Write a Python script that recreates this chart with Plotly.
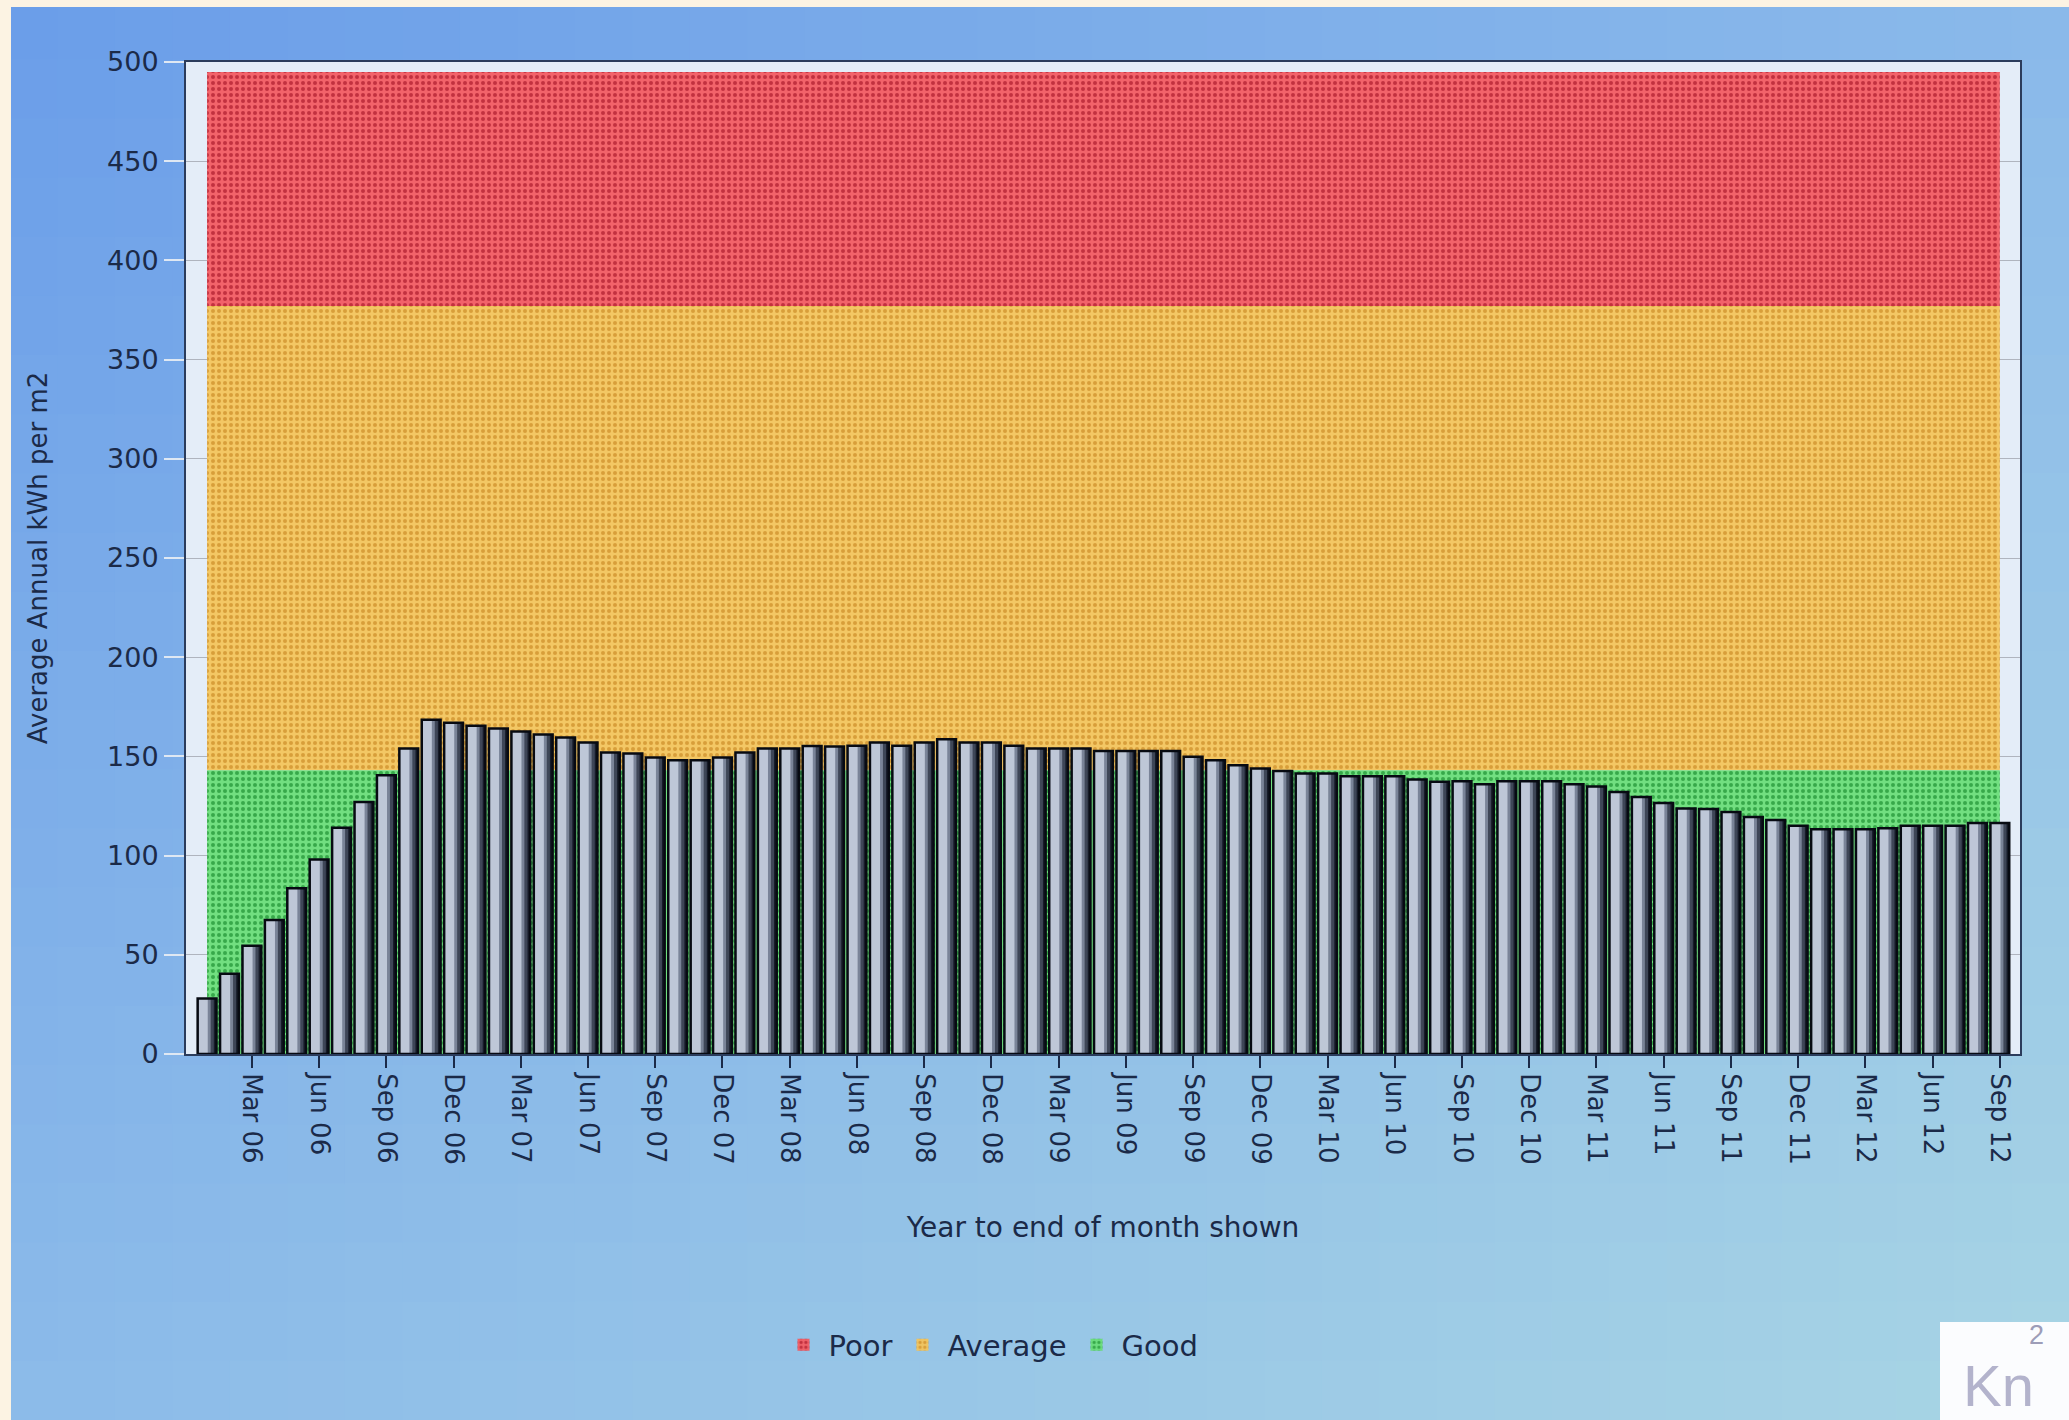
import plotly.graph_objects as go

# ---------------- data ----------------
months = ["Jan", "Feb", "Mar", "Apr", "May", "Jun", "Jul", "Aug", "Sep", "Oct", "Nov", "Dec"]
years = ["06", "07", "08", "09", "10", "11", "12"]
categories = [f"{m} {y}" for y in years for m in months][:81]   # Jan 06 .. Sep 12

energy = [
    28, 40.5, 54.5, 67.5, 83.5, 98, 114, 127, 140.5, 154, 168.5, 167,          # 2006
    165.5, 164, 162.5, 161, 159.5, 157, 152, 151.5, 149.5, 148, 148, 149.5,    # 2007
    152, 154, 154, 155.2, 155, 155.4, 157, 155.4, 157, 158.6, 157, 157,        # 2008
    155.4, 154, 154, 154, 152.7, 152.7, 152.7, 152.7, 149.8, 148.1, 145.6, 143.9,  # 2009
    142.6, 141.4, 141.4, 140, 140, 140, 138.4, 137.2, 137.5, 136, 137.5, 137.5,    # 2010
    137.5, 136, 134.8, 132, 129.5, 126.5, 123.8, 123.5, 122, 119.4, 118, 115,      # 2011
    113.3, 113.3, 113.3, 113.8, 115, 115, 115, 116.4, 116.4,                       # 2012
]

band_names = ["Poor", "Average", "Good"]
band_lower = [377, 143, 0]
band_upper = [495, 377, 143]

tick_labels = ["Mar 06", "Jun 06", "Sep 06", "Dec 06", "Mar 07", "Jun 07", "Sep 07", "Dec 07",
               "Mar 08", "Jun 08", "Sep 08", "Dec 08", "Mar 09", "Jun 09", "Sep 09", "Dec 09",
               "Mar 10", "Jun 10", "Sep 10", "Dec 10", "Mar 11", "Jun 11", "Sep 11", "Dec 11",
               "Mar 12", "Jun 12", "Sep 12"]

y_ticks = [0, 50, 100, 150, 200, 250, 300, 350, 400, 450, 500]

# ---------------- layout geometry ----------------
W, H = 2069, 1420
L, R, T, B = 186, 2020, 62, 1054
FONT = "DejaVu Sans"
TXT = "#1b2a48"


def px2x(px):
    return (px - L) / (R - L)


def py2y(py):
    return (B - py) / (B - T)


idx = list(range(len(categories)))
tick_idx = [categories.index(t) for t in tick_labels]

fig = go.Figure()

# ---------------- rating bands (drawn first, under the bars) ----------------
band_style = {
    "Poor": ("rgba(242,92,98,0.95)", "#c2313f"),
    "Average": ("rgba(244,196,88,0.93)", "#d89e3a"),
    "Good": ("rgba(104,222,118,0.93)", "#37a94a"),
}
span_center = (idx[0] + idx[-1]) / 2
span_width = idx[-1] - idx[0]
for name, lo, hi in zip(band_names, band_lower, band_upper):
    bg, fg = band_style[name]
    fig.add_trace(go.Bar(
        x=[span_center], y=[hi - lo], base=[lo], width=[span_width], name=name,
        marker=dict(color=bg, line=dict(width=0),
                    pattern=dict(shape=".", fgcolor=fg, bgcolor=bg, size=6, solidity=0.35,
                                 fillmode="replace")),
        hoverinfo="skip",
    ))

# ---------------- energy bars (layered to imitate a cylinder shading) ----------------
bar_layers = [
    (0.84, -0.42, "#161b28"),
    (0.72, -0.42, "#3e4657"),
    (0.58, -0.42, "#7a8498"),
    (0.42, -0.39, "#bec7d7"),
]
for w, off, col in bar_layers:
    fig.add_trace(go.Bar(
        x=idx, y=energy, width=w, offset=off,
        marker=dict(color=col, line=dict(width=0)),
        showlegend=False, hoverinfo="skip",
    ))
fig.add_trace(go.Bar(
    x=idx, y=energy, width=0.84, offset=-0.42,
    marker=dict(color="rgba(0,0,0,0)", line=dict(width=2.5, color="#070a12")),
    showlegend=False, hoverinfo="skip",
))

# ---------------- background gradient ----------------
shapes = []
TL, TR, BL, BR = (106, 157, 233), (138, 185, 234), (140, 187, 233), (168, 213, 228)
NC, NR = 36, 24
for i in range(NC):
    for j in range(NR):
        u = (i + 0.5) / NC
        v = (j + 0.5) / NR
        c = [TL[k] * (1 - u) * (1 - v) + TR[k] * u * (1 - v) + BL[k] * (1 - u) * v + BR[k] * u * v
             for k in range(3)]
        x0 = W * i / NC
        x1 = W * (i + 1) / NC + 1
        y0 = H * j / NR
        y1 = H * (j + 1) / NR + 1
        shapes.append(dict(type="rect", xref="paper", yref="paper", layer="below",
                           x0=px2x(x0), x1=px2x(x1), y0=py2y(y1), y1=py2y(y0),
                           fillcolor="rgb(%d,%d,%d)" % tuple(int(round(q)) for q in c),
                           line=dict(width=0)))
# cream frame strips
shapes.append(dict(type="rect", xref="paper", yref="paper", layer="below",
                   x0=px2x(0), x1=px2x(11), y0=py2y(H), y1=py2y(0),
                   fillcolor="#fcf3e3", line=dict(width=0)))
shapes.append(dict(type="rect", xref="paper", yref="paper", layer="below",
                   x0=px2x(0), x1=px2x(W), y0=py2y(7), y1=py2y(0),
                   fillcolor="#fcf3e3", line=dict(width=0)))
# plot area background
shapes.append(dict(type="rect", xref="paper", yref="paper", layer="below",
                   x0=0, x1=1, y0=0, y1=1, fillcolor="#e4edf8", line=dict(width=0)))
# logo box
shapes.append(dict(type="rect", xref="paper", yref="paper", layer="above",
                   x0=px2x(1940), x1=px2x(W + 5), y0=py2y(H + 5), y1=py2y(1322),
                   fillcolor="#fbfcfe", line=dict(width=0)))

annotations = [
    dict(text="Kn", xref="paper", yref="paper", x=px2x(1961), y=py2y(1385),
         xanchor="left", yanchor="middle", showarrow=False,
         font=dict(family="Liberation Sans", size=58, color="#b3b3cc")),
    dict(text="2", xref="paper", yref="paper", x=px2x(2036), y=py2y(1335),
         xanchor="center", yanchor="middle", showarrow=False,
         font=dict(family="Liberation Sans", size=27, color="#9d9db8")),
]

fig.update_layout(
    width=W, height=H,
    margin=dict(l=L, r=W - R, t=T, b=H - B, pad=0),
    paper_bgcolor="#8ab8e8",
    plot_bgcolor="#e4edf8",
    barmode="overlay",
    shapes=shapes,
    annotations=annotations,
    font=dict(family=FONT, color=TXT),
    legend=dict(orientation="h", xref="container", yref="container",
                x=991 / W, y=1 - 1345 / H, xanchor="center", yanchor="middle",
                traceorder="normal",
                font=dict(family=FONT, size=29, color=TXT),
                bgcolor="rgba(0,0,0,0)", itemwidth=40),
    xaxis=dict(
        range=[-0.94, 80.9], tickmode="array", tickvals=tick_idx, ticktext=tick_labels,
        tickangle=90, ticks="outside", ticklen=12, tickwidth=2, tickcolor="#1b2a48",
        tickfont=dict(family=FONT, size=26, color=TXT),
        showline=True, linecolor="#2b3c5c", linewidth=2, mirror=True,
        showgrid=False, zeroline=False,
        title=dict(text="Year to end of month shown", standoff=54,
                   font=dict(family=FONT, size=28, color=TXT)),
    ),
    yaxis=dict(
        range=[0, 500], tickmode="array", tickvals=y_ticks,
        ticks="outside", ticklen=20, tickwidth=2, tickcolor="#dfe8f3",
        tickfont=dict(family=FONT, size=27, color=TXT),
        showline=True, linecolor="#2b3c5c", linewidth=2, mirror=True,
        showgrid=True, gridcolor="rgba(110,110,120,0.45)", gridwidth=1, zeroline=False,
        title=dict(text="Average Annual kWh per m2", standoff=52,
                   font=dict(family=FONT, size=26, color=TXT)),
    ),
)

fig.write_html("out.html")
